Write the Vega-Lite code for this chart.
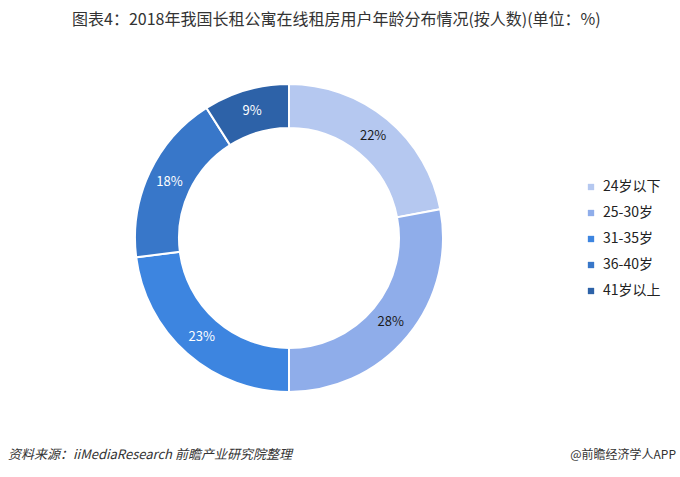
{
  "$schema": "https://vega.github.io/schema/vega-lite/v6.json",
  "autosize": "none",
  "width": 320,
  "height": 320,
  "padding": {"left": 129, "top": 78, "right": 231, "bottom": 79},
  "background": "white",
  "config": {"view": {"stroke": null}, "font": "Noto Sans CJK SC"},
  "title": {
    "text": "图表4：2018年我国长租公寓在线租房用户年龄分布情况(按人数)(单位：%)",
    "anchor": "start",
    "frame": "group",
    "dx": -57,
    "offset": 50,
    "fontSize": 16,
    "fontWeight": "normal",
    "color": "#333333",
    "font": "Noto Sans CJK SC"
  },
  "data": {
    "values": [
      {"group": "24岁以下", "value": 22, "order": 1, "label": "22%"},
      {"group": "25-30岁", "value": 28, "order": 2, "label": "28%"},
      {"group": "31-35岁", "value": 23, "order": 3, "label": "23%"},
      {"group": "36-40岁", "value": 18, "order": 4, "label": "18%"},
      {"group": "41岁以上", "value": 9, "order": 5, "label": "9%"}
    ]
  },
  "layer": [
    {
      "mark": {"type": "arc", "innerRadius": 110, "outerRadius": 154, "stroke": "white", "strokeWidth": 2},
      "encoding": {
        "theta": {"field": "value", "type": "quantitative", "stack": true},
        "order": {"field": "order", "type": "quantitative"},
        "color": {
          "field": "group",
          "type": "nominal",
          "sort": ["24岁以下", "25-30岁", "31-35岁", "36-40岁", "41岁以上"],
          "scale": {
            "domain": ["24岁以下", "25-30岁", "31-35岁", "36-40岁", "41岁以上"],
            "range": ["#b5c8f0", "#8fadea", "#3d85e0", "#3877c9", "#2d62a8"]
          },
          "legend": {
            "title": null,
            "orient": "none",
            "legendX": 455,
            "legendY": 102,
            "symbolType": "square",
            "symbolSize": 40,
            "symbolStrokeWidth": 0,
            "labelFontSize": 14,
            "labelColor": "#222222",
            "labelFont": "Noto Sans CJK SC",
            "rowPadding": 12,
            "labelOffset": 5
          }
        }
      }
    },
    {
      "mark": {"type": "text", "radius": 132, "fontSize": 13, "font": "Noto Sans CJK SC"},
      "encoding": {
        "theta": {"field": "value", "type": "quantitative", "stack": true},
        "order": {"field": "order", "type": "quantitative"},
        "text": {"field": "label"},
        "color": {
          "field": "order",
          "type": "nominal",
          "scale": {"domain": [1, 2, 3, 4, 5], "range": ["#1a1a1a", "#1a1a1a", "#ffffff", "#ffffff", "#ffffff"]},
          "legend": null
        }
      }
    },
    {
      "data": {"values": [{"t": "资料来源：iiMediaResearch 前瞻产业研究院整理"}]},
      "mark": {"type": "text", "align": "left", "baseline": "middle", "fontSize": 13, "fontStyle": "italic", "color": "#333333", "font": "Noto Sans CJK SC"},
      "encoding": {"text": {"field": "t"}, "x": {"value": -121}, "y": {"value": 377}}
    },
    {
      "data": {"values": [{"t": "@前瞻经济学人APP"}]},
      "mark": {"type": "text", "align": "right", "baseline": "middle", "fontSize": 12, "color": "#333333", "font": "Noto Sans CJK SC"},
      "encoding": {"text": {"field": "t"}, "x": {"value": 547}, "y": {"value": 377}}
    }
  ],
  "resolve": {"scale": {"color": "independent"}}
}
